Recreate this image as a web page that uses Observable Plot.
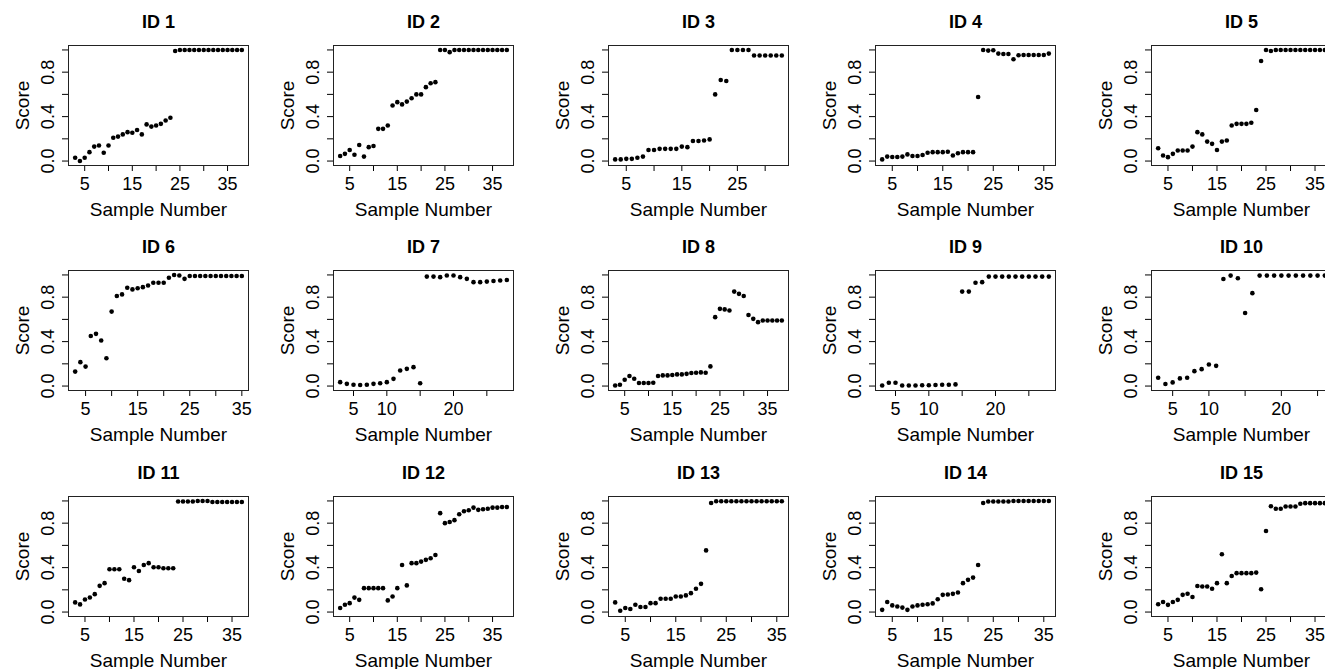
<!DOCTYPE html>
<html><head><meta charset="utf-8">
<script src="https://cdn.jsdelivr.net/npm/d3@7"></script>
<script src="https://cdn.jsdelivr.net/npm/@observablehq/plot@0.6"></script>
<style>
html,body{margin:0;padding:0;background:#fff;overflow:hidden}
#fig{position:relative;width:1325px;height:669px;overflow:hidden;background:#fff}
.panel{position:absolute}
.panel svg{max-width:none !important;display:block}
</style></head><body><div id="fig"></div>
<script>
// ---- data (scores for samples starting at sample 3) ----
const firstSample = 3;
const id1 = [0.03,0.00,0.03,0.08,0.13,0.14,0.075,0.14,0.21,0.22,0.24,0.26,0.255,0.28,0.24,0.33,0.31,0.32,0.335,0.365,0.39,0.99,1,1,1,1,1,1,1,1,1,1,1,1,1,1];
const id2 = [0.045,0.065,0.10,0.057,0.145,0.04,0.125,0.135,0.29,0.29,0.32,0.50,0.53,0.51,0.535,0.565,0.60,0.60,0.665,0.70,0.71,1,1,0.98,1,1,1,1,1,1,1,1,1,1,1,1];
const id3 = [0.015,0.015,0.02,0.02,0.03,0.04,0.10,0.10,0.11,0.11,0.11,0.11,0.13,0.125,0.18,0.18,0.185,0.195,0.60,0.73,0.72,1,1,1,1,0.95,0.95,0.95,0.95,0.95,0.95];
const id4 = [0.015,0.04,0.036,0.036,0.04,0.06,0.045,0.045,0.054,0.075,0.08,0.08,0.08,0.084,0.05,0.07,0.08,0.08,0.08,0.577,1.0,0.994,0.997,0.967,0.964,0.964,0.916,0.952,0.955,0.955,0.955,0.955,0.955,0.967];
const id5 = [0.115,0.05,0.035,0.065,0.095,0.095,0.095,0.13,0.26,0.24,0.175,0.155,0.10,0.175,0.185,0.32,0.335,0.335,0.335,0.345,0.46,0.90,1,0.99,1,1,1,1,1,1,1,1,1,1,1];
const id6 = [0.13,0.215,0.175,0.45,0.47,0.41,0.25,0.67,0.81,0.825,0.885,0.87,0.88,0.89,0.905,0.93,0.93,0.93,0.975,1.0,0.995,0.965,0.99,0.99,0.99,0.99,0.99,0.99,0.99,0.99,0.99,0.99,0.99];
const id7 = [0.035,0.02,0.012,0.01,0.012,0.02,0.025,0.035,0.065,0.14,0.155,0.17,0.025,0.985,0.985,0.98,0.995,0.995,0.98,0.965,0.935,0.935,0.94,0.945,0.95,0.955];
const id8 = [0.005,0.012,0.057,0.09,0.066,0.027,0.027,0.027,0.03,0.09,0.096,0.096,0.10,0.105,0.105,0.11,0.117,0.12,0.123,0.12,0.177,0.62,0.695,0.69,0.68,0.85,0.83,0.81,0.64,0.605,0.575,0.59,0.59,0.59,0.59,0.59];
const id9 = [0.005,0.03,0.03,0.005,0.005,0.005,0.007,0.007,0.01,0.012,0.012,0.015,0.85,0.85,0.93,0.935,0.985,0.985,0.985,0.985,0.985,0.985,0.985,0.985,0.985,0.985];
const id10 = [0.075,0.018,0.033,0.069,0.075,0.134,0.152,0.194,0.182,0.964,0.994,0.97,0.657,0.836,0.994,0.994,0.994,0.994,0.994,0.994,0.994,0.994,0.994,0.994];
const id11 = [0.087,0.069,0.113,0.131,0.161,0.236,0.26,0.385,0.385,0.385,0.30,0.287,0.403,0.37,0.424,0.44,0.403,0.403,0.394,0.394,0.394,0.995,0.995,0.995,0.995,1,1,1,0.99,0.99,0.99,0.99,0.99,0.99,0.99];
const id12 = [0.036,0.066,0.08,0.13,0.11,0.215,0.215,0.215,0.215,0.215,0.105,0.14,0.215,0.424,0.24,0.44,0.44,0.454,0.47,0.484,0.513,0.89,0.80,0.81,0.827,0.88,0.907,0.916,0.94,0.92,0.925,0.93,0.94,0.94,0.946,0.946];
const id13 = [0.087,0.012,0.036,0.027,0.066,0.045,0.045,0.08,0.08,0.12,0.12,0.12,0.14,0.14,0.15,0.17,0.21,0.254,0.555,0.982,0.997,0.997,0.997,0.997,0.997,0.997,0.997,0.997,0.997,0.997,0.997,0.997,0.997,0.997];
const id14 = [0.02,0.09,0.06,0.05,0.04,0.02,0.05,0.06,0.066,0.07,0.078,0.115,0.155,0.158,0.164,0.176,0.26,0.29,0.31,0.424,0.982,0.995,0.995,0.995,0.995,0.995,1,1,1,1,1,1,1,1];
const id15 = [0.07,0.09,0.065,0.09,0.11,0.155,0.165,0.135,0.235,0.23,0.23,0.21,0.26,0.52,0.26,0.325,0.35,0.35,0.35,0.35,0.355,0.205,0.73,0.952,0.93,0.93,0.95,0.95,0.95,0.975,0.98,0.98,0.98,0.98,0.98];

const titles = ["ID 1","ID 2","ID 3","ID 4","ID 5","ID 6","ID 7","ID 8","ID 9","ID 10","ID 11","ID 12","ID 13","ID 14","ID 15"];
const series = [id1,id2,id3,id4,id5,id6,id7,id8,id9,id10,id11,id12,id13,id14,id15];
const labelsWide = [5,15,25,35];
const labelsMid = [5,15,25];
const labelsNarrow = [5,10,20];
const xLabelSets = [labelsWide,labelsWide,labelsMid,labelsWide,labelsWide,
                    labelsWide,labelsNarrow,labelsWide,labelsNarrow,labelsNarrow,
                    labelsWide,labelsWide,labelsWide,labelsWide,labelsWide];
const xTitle = "Sample Number";
const yTitle = "Score";
const yTicks = [0,0.2,0.4,0.6,0.8,1.0];
const yLabels = [0,0.4,0.8];

// ---- layout ----
const boxLeft = [67.5, 333, 607.5, 875, 1150.5];
const boxTop = [44.6, 269.8, 495.8];
const boxW = 180, boxH = 120;
const mL = 68, mR = 12, mT = 45, mB = 60;
const font = "'Liberation Sans', Arial, Helvetica, sans-serif";
const fig = document.getElementById("fig");

series.forEach((vals, i) => {
  const col = i % 5, row = Math.floor(i / 5);
  const data = vals.map((v, j) => ({sample: firstSample + j, score: v}));
  const xmin = firstSample, xmax = firstSample + vals.length - 1;
  const pad = 0.04 * (xmax - xmin);
  const xDomain = [xmin - pad, xmax + pad];
  const xTicks = d3.range(5, xDomain[1], 5).filter(t => t >= xDomain[0]);
  const labs = xLabelSets[i];
  const chart = Plot.plot({
    width: mL + boxW + mR,
    height: mT + boxH + mB,
    marginLeft: mL, marginRight: mR, marginTop: mT, marginBottom: mB,
    style: {fontFamily: font, fontSize: "18px", background: "transparent", color: "#000", overflow: "visible"},
    x: {domain: xDomain, ticks: xTicks, tickSize: 6, tickFormat: () => "", label: null},
    y: {domain: [-0.04, 1.04], ticks: yTicks, tickSize: 6, tickFormat: () => "", label: null},
    marks: [
      Plot.frame({stroke: "#222", strokeWidth: 1}),
      Plot.dot(data, {x: "sample", y: "score", r: 2.3, fill: "#000", stroke: null}),
      Plot.text(labs, {x: d => d, text: d => String(d), frameAnchor: "bottom",
        dy: 19, textAnchor: "middle", lineAnchor: "middle", fontSize: 18}),
      Plot.text(yLabels, {y: d => d, text: d => d.toFixed(1), frameAnchor: "left",
        rotate: -90, dx: -20, textAnchor: "middle", lineAnchor: "middle", fontSize: 18}),
      Plot.text([titles[i]], {frameAnchor: "top", dy: -23, textAnchor: "middle",
        lineAnchor: "middle", fontWeight: "bold", fontSize: 18}),
      Plot.text([xTitle], {frameAnchor: "bottom", dy: 44, textAnchor: "middle",
        lineAnchor: "middle", fontSize: 19}),
      Plot.text([yTitle], {frameAnchor: "left", dx: -46, rotate: -90, textAnchor: "middle",
        lineAnchor: "middle", fontSize: 19})
    ]
  });
  const div = document.createElement("div");
  div.className = "panel";
  div.style.left = (boxLeft[col] - mL) + "px";
  div.style.top = (boxTop[row] - mT) + "px";
  div.style.width = (mL + boxW + mR) + "px";
  div.appendChild(chart);
  fig.appendChild(div);
});
</script></body></html>
